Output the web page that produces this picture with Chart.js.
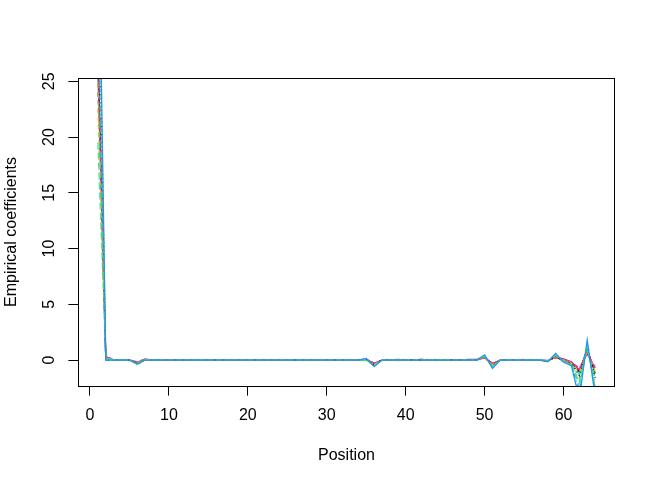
<!DOCTYPE html>
<html>
<head>
<meta charset="utf-8">
<script src="https://cdn.jsdelivr.net/npm/chart.js@4.4.0/dist/chart.umd.min.js"></script>
<style>
    html, body { margin: 0; padding: 0; background: #fff; }
    #chart { display: block; }
</style>
</head>
<body>
<canvas id="chart" width="655" height="484"></canvas>
<script>
// positions 1..64 along the x axis
const positions = Array.from({ length: 64 }, (_, i) => i + 1);
const xTicks = [0, 10, 20, 30, 40, 50, 60];
const yTicks = [0, 5, 10, 15, 20, 25];

// empirical coefficients, one array per curve
const coefBlack1 = [
    28.0, 0.2, 0, 0, 0, -0.2, 0.05, 0, 0, 0, 0, 0, 0, 0, 0, 0,
    0, 0, 0, 0, 0, 0, 0, 0, 0, 0, 0, 0, 0, 0, 0, 0,
    0, 0, 0.05, -0.35, 0, 0, 0, 0, 0, 0, 0, 0, 0, 0, 0, 0,
    0, 0.25, -0.4, 0, 0, 0, 0, 0, 0, -0.1, 0.3, -0.1, -0.25, -1.05, 1.0, -1.2
];
const coefPink1 = [
    24.0, 0.3, 0, 0, 0, -0.25, 0.1, 0, 0, 0, 0, 0, 0, 0, 0, 0,
    0, 0, 0, 0, 0, 0, 0, 0, 0, 0, 0, 0, 0, 0, 0, 0,
    0, 0, 0.1, -0.45, 0, 0, 0, 0, 0, 0.08, 0, 0, 0, 0, 0, 0,
    0, 0.2, -0.35, 0, 0, 0, 0.06, 0, 0, -0.05, 0.25, 0.05, -0.2, -0.8, 0.7, -0.9
];
const coefGreen1 = [
    36.0, 0.1, 0, 0, 0, -0.45, 0.05, 0, 0, 0, 0, 0, 0, 0, 0, 0,
    0, 0, 0, 0, 0, 0, 0, 0, 0, 0, 0, 0, 0, 0, 0, 0,
    0, 0, 0, -0.3, 0, 0, 0, 0, 0, 0, 0, 0, 0, 0, 0, 0,
    0, 0.3, -0.5, 0, 0, 0, 0, 0.06, 0, -0.1, 0.35, -0.05, -0.35, -1.6, 1.3, -2.0
];
const coefBlue1 = [
    27.0, 0, 0, 0.05, 0, -0.3, 0, 0, 0, 0, 0, 0, 0, 0, 0, 0,
    0, 0, 0, 0, 0, 0, 0, 0, 0, 0, 0, 0, 0, 0, 0, 0,
    0, 0, 0.1, -0.5, 0, 0, 0, 0, 0, 0, 0, 0, 0, 0, 0, 0,
    0, 0.35, -0.6, 0, 0, 0, 0, 0, 0, -0.1, 0.45, -0.15, -0.4, -2.8, 1.5, -3.0
];
const coefCyan1 = [
    19.5, 0.2, 0, 0, 0, -0.15, 0.05, 0, 0, 0, 0, 0, 0, 0, 0, 0,
    0, 0, 0, 0, 0, 0, 0, 0, 0, 0, 0, 0, 0, 0, 0, 0,
    0, 0, 0, -0.4, 0, 0, -0.05, 0, 0, 0, 0, 0, 0, 0, 0, 0,
    0, 0.2, -0.45, 0, 0, 0, 0, 0, 0, -0.05, 0.3, 0, -0.3, -1.3, 0.9, -1.5
];
const coefMagenta1 = [
    26.0, 0.3, 0, 0, 0, -0.2, 0.05, 0, 0, 0, 0, 0, 0, 0, 0, 0,
    0, 0, 0, 0, 0, 0, 0, 0, 0, 0, 0, 0, 0, 0, 0, 0,
    0, 0, 0.05, -0.3, 0, 0, 0.06, 0, 0, 0, 0, 0, 0, 0, 0, 0.06,
    0.05, 0.2, -0.3, 0, 0, 0, 0, 0, 0, -0.05, 0.25, 0.1, -0.15, -0.9, 0.6, -0.7
];
const coefYellow1 = [
    22.5, 0.2, 0, 0, 0, -0.2, 0.05, 0, 0, 0, 0, 0, 0, 0, 0, 0,
    0, 0, 0, 0, 0, 0, 0, 0, 0, 0, 0, 0, 0, 0, 0, 0,
    0, 0, 0.05, -0.4, 0, 0, 0, 0, 0, 0, 0, 0, 0.08, 0, 0, 0,
    0, 0.15, -0.4, 0, 0, 0, 0, 0, 0, -0.05, 0.2, 0, -0.25, -1.1, 0.8, -1.0
];
const coefBlack2 = [
    40.0, 0, 0, 0, 0, -0.3, 0.05, 0, 0, 0, 0, 0, 0, 0, 0, 0,
    0, 0, 0, 0, 0, 0, 0, 0, 0, 0, 0, 0, 0, 0, 0, 0,
    0, 0, 0.05, -0.45, 0, 0, 0, 0, 0, 0, 0, 0, 0, 0, 0, 0,
    0, 0.3, -0.5, 0, 0, 0, 0, 0, 0, -0.1, 0.35, -0.1, -0.3, -1.4, 1.1, -1.6
];
const coefPink2 = [
    31.0, 0.4, 0, 0, 0, -0.15, 0.1, 0, 0, 0, 0, 0, 0, 0, 0, 0,
    0, 0, 0, 0, 0, 0, 0, 0, 0, 0, 0, 0, 0, 0, 0, 0,
    0, 0, 0.1, -0.25, 0, 0, 0, 0, 0, 0, 0, 0, 0, 0, 0, 0,
    0, 0.2, -0.3, 0, 0, 0, 0, 0, 0, -0.05, 0.2, 0.05, -0.2, -0.7, 0.5, -0.6
];
const coefGreen2 = [
    25.0, 0.2, 0, 0, 0, -0.4, 0.05, 0, 0, 0, 0, 0, 0, 0, 0, 0,
    0, 0, 0, 0, 0, 0, 0, 0, 0, 0, 0, 0, 0, 0, 0, 0,
    0, 0, 0, -0.55, 0, 0, 0, 0, 0, 0, 0, 0, 0, 0, 0, 0,
    0, 0.3, -0.55, 0, 0, 0, 0, 0, 0, -0.1, 0.4, -0.1, -0.4, -2.0, 1.2, -2.4
];
const coefCyan2 = [
    38.0, 0.2, 0, 0, 0, -0.35, 0.05, 0, 0, 0, 0, 0, 0, 0, 0, 0,
    0, 0, 0, 0, 0, 0, 0, 0, 0, 0, 0, 0, 0, 0, 0, 0,
    0, 0, 0.05, -0.5, 0, 0, 0, 0, 0, 0, 0, 0, 0, 0, 0, 0,
    0, 0.35, -0.65, 0, 0, 0, 0, 0, 0, -0.1, 0.5, -0.15, -0.45, -2.4, 1.4, -2.6
];
const coefBlue2 = [
    45.0, 0, 0, 0, 0, -0.35, 0, 0, 0, 0, 0, 0, 0, 0, 0, 0,
    0, 0, 0, 0, 0, 0, 0, 0, 0, 0, 0, 0, 0, 0, 0, 0,
    0, 0, 0.15, -0.6, 0, 0, 0, 0, 0, 0, 0, 0, 0, 0, 0, 0,
    0, 0.45, -0.75, 0, 0, 0, 0, 0, 0, -0.15, 0.6, -0.2, -0.5, -3.5, 1.8, -3.2
];

const series = [
    coefBlack1, coefPink1, coefGreen1, coefBlue1, coefCyan1, coefMagenta1,
    coefYellow1, coefBlack2, coefPink2, coefGreen2, coefCyan2, coefBlue2
];
const seriesColors = [
    '#000000', '#DF536B', '#61D04F', '#2297E6', '#28E2E5', '#CD0BBC',
    '#F5C710', '#000000', '#DF536B', '#61D04F', '#28E2E5', '#2297E6'
];
const seriesDash = [
    [], [4, 4], [1, 3], [1, 3, 4, 3], [7, 3], [],
    [4, 4], [1, 3], [1, 3, 4, 3], [7, 3], [4, 4], []
];

const font = { family: "'Liberation Sans', Arial, sans-serif", size: 16 };

// draws the closed box round the plot region, like R's box()
const boxPlugin = {
    id: 'box',
    afterDraw(chart) {
        const { ctx, chartArea: a } = chart;
        ctx.save();
        ctx.strokeStyle = '#000';
        ctx.lineWidth = 1;
        ctx.strokeRect(a.left + 0.5, a.top + 0.5, a.right - a.left - 1, a.bottom - a.top);
        ctx.restore();
    }
};

const datasets = series.map((vals, i) => ({
    data: positions.map((p, j) => ({ x: p, y: vals[j] })),
    borderColor: seriesColors[i],
    borderDash: seriesDash[i],
    borderWidth: 1.3,
    pointRadius: 0,
    tension: 0,
    fill: false,
    clip: 0,
    order: series.length - i
}));

new Chart(document.getElementById('chart').getContext('2d'), {
    type: 'line',
    data: { datasets },
    options: {
        responsive: false,
        animation: false,
        devicePixelRatio: 1,
        layout: { padding: { top: 78, right: 40, left: 0, bottom: 0 } },
        plugins: { legend: { display: false }, tooltip: { enabled: false } },
        scales: {
            x: {
                type: 'linear',
                min: -1.52,
                max: 66.52,
                afterBuildTicks: s => { s.ticks = xTicks.map(v => ({ value: v })); },
                afterFit: s => { s.height = 98; },
                border: { display: false },
                grid: { drawOnChartArea: false, drawTicks: true, tickLength: 9.6, tickColor: '#000' },
                ticks: { color: '#000', font, padding: 10, maxRotation: 0 },
                title: { display: true, text: 'Position', color: '#000', font, padding: { top: 0, bottom: 19 } }
            },
            y: {
                type: 'linear',
                min: -2.33,
                max: 25.3,
                afterBuildTicks: s => { s.ticks = yTicks.map(v => ({ value: v })); },
                afterFit: s => { s.width = 78; },
                border: { display: false },
                grid: { drawOnChartArea: false, drawTicks: true, tickLength: 9.6, tickColor: '#000' },
                ticks: { color: '#000', font, padding: 9.5, minRotation: 90, maxRotation: 90, crossAlign: 'center' },
                title: { display: true, text: 'Empirical coefficients', color: '#000', font, padding: { top: 2, bottom: 0 } }
            }
        }
    },
    plugins: [boxPlugin]
});
</script>
</body>
</html>
